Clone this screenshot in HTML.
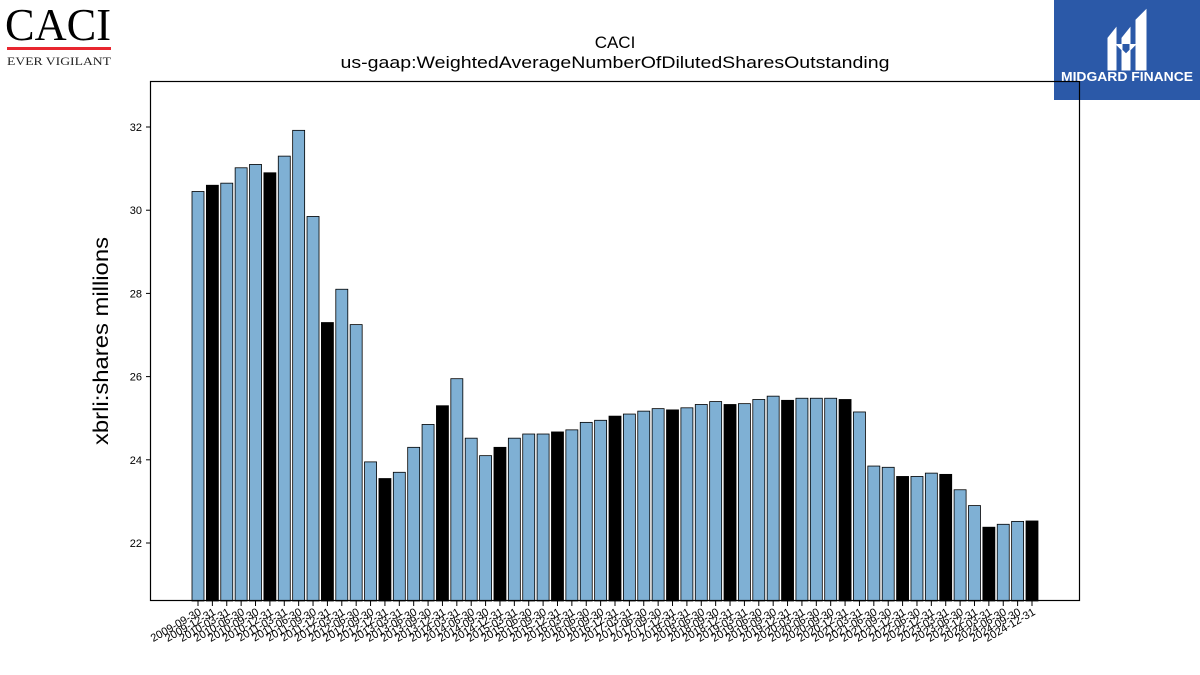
<!DOCTYPE html>
<html><head><meta charset="utf-8">
<style>
body{margin:0;width:1200px;height:675px;background:#fff;overflow:hidden;font-family:"Liberation Sans",sans-serif;}
svg{position:absolute;left:0;top:0}
</style></head>
<body>
<svg id="chart" width="1200" height="675">
  <g>
    <text x="58" y="40" text-anchor="middle" font-family="Liberation Serif,serif" font-size="46" fill="#000" textLength="106" lengthAdjust="spacingAndGlyphs">CACI</text>
    <rect x="7" y="47" width="104" height="3" fill="#e8262f"/>
    <text x="59" y="65" text-anchor="middle" font-family="Liberation Serif,serif" font-size="12" fill="#222" textLength="104" lengthAdjust="spacingAndGlyphs">EVER VIGILANT</text>
  </g>
  <g>
    <rect x="1054" y="0" width="146" height="100" fill="#2b59a8"/>
    <path d="M1108 38 L1116 28 L1116 70 L1108 70 Z M1122 38 L1130 28 L1130 70 L1122 70 Z M1136 20 L1146 10 L1146 70 L1136 70 Z M1116 44 L1126 54 L1136 44" fill="#fff" stroke="#fff" stroke-width="1"/>
    <text x="1127" y="81" text-anchor="middle" font-size="12.5" font-weight="bold" fill="#fff" textLength="132" lengthAdjust="spacingAndGlyphs">MIDGARD FINANCE</text>
  </g>
  <text x="615" y="48" text-anchor="middle" font-size="17">CACI</text>
  <text x="615" y="68" text-anchor="middle" font-size="17" textLength="549" lengthAdjust="spacingAndGlyphs">us-gaap:WeightedAverageNumberOfDilutedSharesOutstanding</text>
  <text transform="translate(108,341) rotate(-90)" text-anchor="middle" font-size="21" textLength="208" lengthAdjust="spacingAndGlyphs">xbrli:shares millions</text>
  <g id="bars"></g>
  <g id="yaxis"></g>
  <g id="xaxis"></g>
  <rect x="150.5" y="81.5" width="929" height="519" fill="none" stroke="#000" stroke-width="1.2"/>
</svg>
<script>
const categories = ["2009-09-30","2009-12-31","2010-03-31","2010-06-30","2010-09-30","2010-12-31","2011-03-31","2011-06-30","2011-09-30","2011-12-31","2012-03-31","2012-06-30","2012-09-30","2012-12-31","2013-03-31","2013-06-30","2013-09-30","2013-12-31","2014-03-31","2014-06-30","2014-09-30","2014-12-31","2015-03-31","2015-06-30","2015-09-30","2015-12-31","2016-03-31","2016-06-30","2016-09-30","2016-12-31","2017-03-31","2017-06-30","2017-09-30","2017-12-31","2018-03-31","2018-06-30","2018-09-30","2018-12-31","2019-03-31","2019-06-30","2019-09-30","2019-12-31","2020-03-31","2020-06-30","2020-09-30","2020-12-31","2021-03-31","2021-06-30","2021-09-30","2021-12-31","2022-06-30","2022-12-31","2023-03-31","2023-06-30","2023-12-31","2024-03-31","2024-06-30","2024-09-30","2024-12-31"];
const values = [30.45,30.6,30.65,31.02,31.1,30.9,31.3,31.92,29.85,27.3,28.1,27.25,23.95,23.55,23.7,24.3,24.85,25.3,25.95,24.52,24.1,24.3,24.52,24.62,24.62,24.67,24.72,24.9,24.95,25.05,25.1,25.17,25.23,25.2,25.25,25.33,25.4,25.33,25.35,25.45,25.53,25.43,25.48,25.48,25.48,25.45,25.15,23.85,23.82,23.6,23.6,23.68,23.65,23.28,22.9,22.38,22.45,22.52,22.53];
const annual = [0,1,0,0,0,1,0,0,0,1,0,0,0,1,0,0,0,1,0,0,0,1,0,0,0,1,0,0,0,1,0,0,0,1,0,0,0,1,0,0,0,1,0,0,0,1,0,0,0,1,0,0,1,0,0,1,0,0,1];
const yTicks = [22,24,26,28,30,32];

const NS="http://www.w3.org/2000/svg";
const yMin=20.606, yMax=33.106, plotTop=81, plotBottom=601;
function yScale(v){return plotBottom-(v-yMin)/(yMax-yMin)*(plotBottom-plotTop);}
const xStart=198, xEnd=1032;
function xScale(i){return xStart+i*(xEnd-xStart)/(categories.length-1);}
const bw=12;
const gb=document.getElementById('bars');
values.forEach((v,i)=>{
  const r=document.createElementNS(NS,'rect');
  r.setAttribute('x',xScale(i)-bw/2);
  r.setAttribute('y',yScale(v));
  r.setAttribute('width',bw);
  r.setAttribute('height',plotBottom-yScale(v));
  r.setAttribute('fill',annual[i]?'#000':'#7fb0d4');
  r.setAttribute('stroke','#000');
  r.setAttribute('stroke-width','0.8');
  
  
  gb.appendChild(r);
});
const gy=document.getElementById('yaxis');
yTicks.forEach(t=>{
  const y=yScale(t);
  const l=document.createElementNS(NS,'line');
  l.setAttribute('x1',146);l.setAttribute('x2',150);l.setAttribute('y1',y);l.setAttribute('y2',y);
  l.setAttribute('stroke','#000');
  
  
  gy.appendChild(l);
  const tx=document.createElementNS(NS,'text');
  tx.setAttribute('x',142);tx.setAttribute('y',y+4);tx.setAttribute('text-anchor','end');tx.setAttribute('font-size','11');
  tx.textContent=t;
  
  
  gy.appendChild(tx);
});
const gx=document.getElementById('xaxis');
categories.forEach((c,i)=>{
  const x=xScale(i);
  const l=document.createElementNS(NS,'line');
  l.setAttribute('x1',x);l.setAttribute('x2',x);l.setAttribute('y1',601);l.setAttribute('y2',606);
  l.setAttribute('stroke','#000');
  
  
  gx.appendChild(l);
  const tx=document.createElementNS(NS,'text');
  tx.setAttribute('transform','translate('+(x+4)+',614) rotate(-30)');
  tx.setAttribute('text-anchor','end');tx.setAttribute('font-size','11');
  tx.textContent=c;
  
  
  gx.appendChild(tx);
});
</script>
</body></html>
